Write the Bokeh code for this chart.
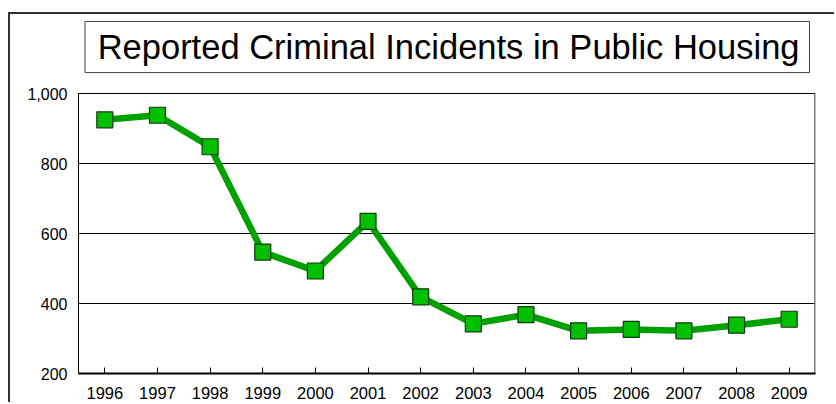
from bokeh.plotting import figure
from bokeh.models import (FactorRange, Range1d, FixedTicker, NumeralTickFormatter,
                          Label, BoxAnnotation, ColumnDataSource)
from bokeh.embed import file_html
from bokeh.resources import INLINE

years = ["1996", "1997", "1998", "1999", "2000", "2001", "2002",
         "2003", "2004", "2005", "2006", "2007", "2008", "2009"]
incidents = [925, 938, 848, 547, 493, 635, 419, 342, 368, 322, 326, 322, 338, 355]
y_ticks = [200, 400, 600, 800, 1000]
title_text = "Reported Criminal Incidents in Public Housing"

FONT = "Liberation Sans"
Y_MIN, Y_MAX = 200, 1000
# extra headroom above the value axis holds the boxed heading
Y_TOP = 1226

# the page frame: a dark rule along the left and top edges of the graphic
OFF_X, OFF_Y = 10, 14

p = figure(width=836 - OFF_X, height=404 - OFF_Y,
           output_backend="svg", toolbar_location=None,
           x_range=FactorRange(factors=years, range_padding=0),
           y_range=Range1d(Y_MIN, Y_TOP),
           min_border_left=68, min_border_right=21,
           min_border_top=0, min_border_bottom=31)
p.styles = {"margin-left": "8px", "margin-top": "12px",
            "border-left": "2px solid #333333", "border-top": "2px solid #333333"}
p.title = None
p.outline_line_color = None
p.background_fill_color = "white"
p.border_fill_color = "white"

# axes
p.xaxis.axis_line_color = "black"
p.xaxis.axis_line_width = 2
p.xaxis.major_tick_in = 6
p.xaxis.major_tick_out = 0
p.xaxis.major_tick_line_color = "black"
p.xaxis.minor_tick_line_color = None
p.xaxis.major_label_standoff = 13
p.xaxis.major_label_text_font = FONT
p.xaxis.major_label_text_font_size = "16.5px"
p.xaxis.major_label_text_color = "black"

p.yaxis.ticker = FixedTicker(ticks=y_ticks)
p.yaxis.bounds = (Y_MIN, Y_MAX)
p.yaxis.formatter = NumeralTickFormatter(format="0,0")
p.yaxis.axis_line_color = "black"
p.yaxis.axis_line_width = 1
p.yaxis.major_tick_in = 3
p.yaxis.major_tick_out = 0
p.yaxis.minor_tick_line_color = None
p.yaxis.major_label_standoff = 11
p.yaxis.major_label_text_font = FONT
p.yaxis.major_label_text_font_size = "16px"
p.yaxis.major_label_text_color = "black"

p.xgrid.grid_line_color = None
p.ygrid.grid_line_color = "black"
p.ygrid.grid_line_width = 1

# grey right edge of the plotting area
n_cat = len(years)
p.segment(x0=[n_cat], y0=[Y_MIN], x1=[n_cat], y1=[Y_MAX],
          line_color="#808080", line_width=3)

src = ColumnDataSource(dict(year=years, n=incidents))
p.line("year", "n", source=src, line_color="#00a000", line_width=6.5)
p.scatter("year", "n", source=src, marker="square", size=16,
          fill_color="#00c000", line_color="#103810", line_width=1.2)

# boxed heading
p.add_layout(BoxAnnotation(left=0.123, right=13.886, bottom=1060, top=1206,
                           fill_color="white", fill_alpha=1.0,
                           line_color="#444444", line_alpha=1.0, line_width=1))
p.add_layout(Label(x=7.03, y=1132, text=title_text, text_align="center",
                   text_baseline="alphabetic", text_font=FONT,
                   text_font_size="34.5px", text_color="black"))

open("out.html", "w").write(file_html(p, INLINE))
